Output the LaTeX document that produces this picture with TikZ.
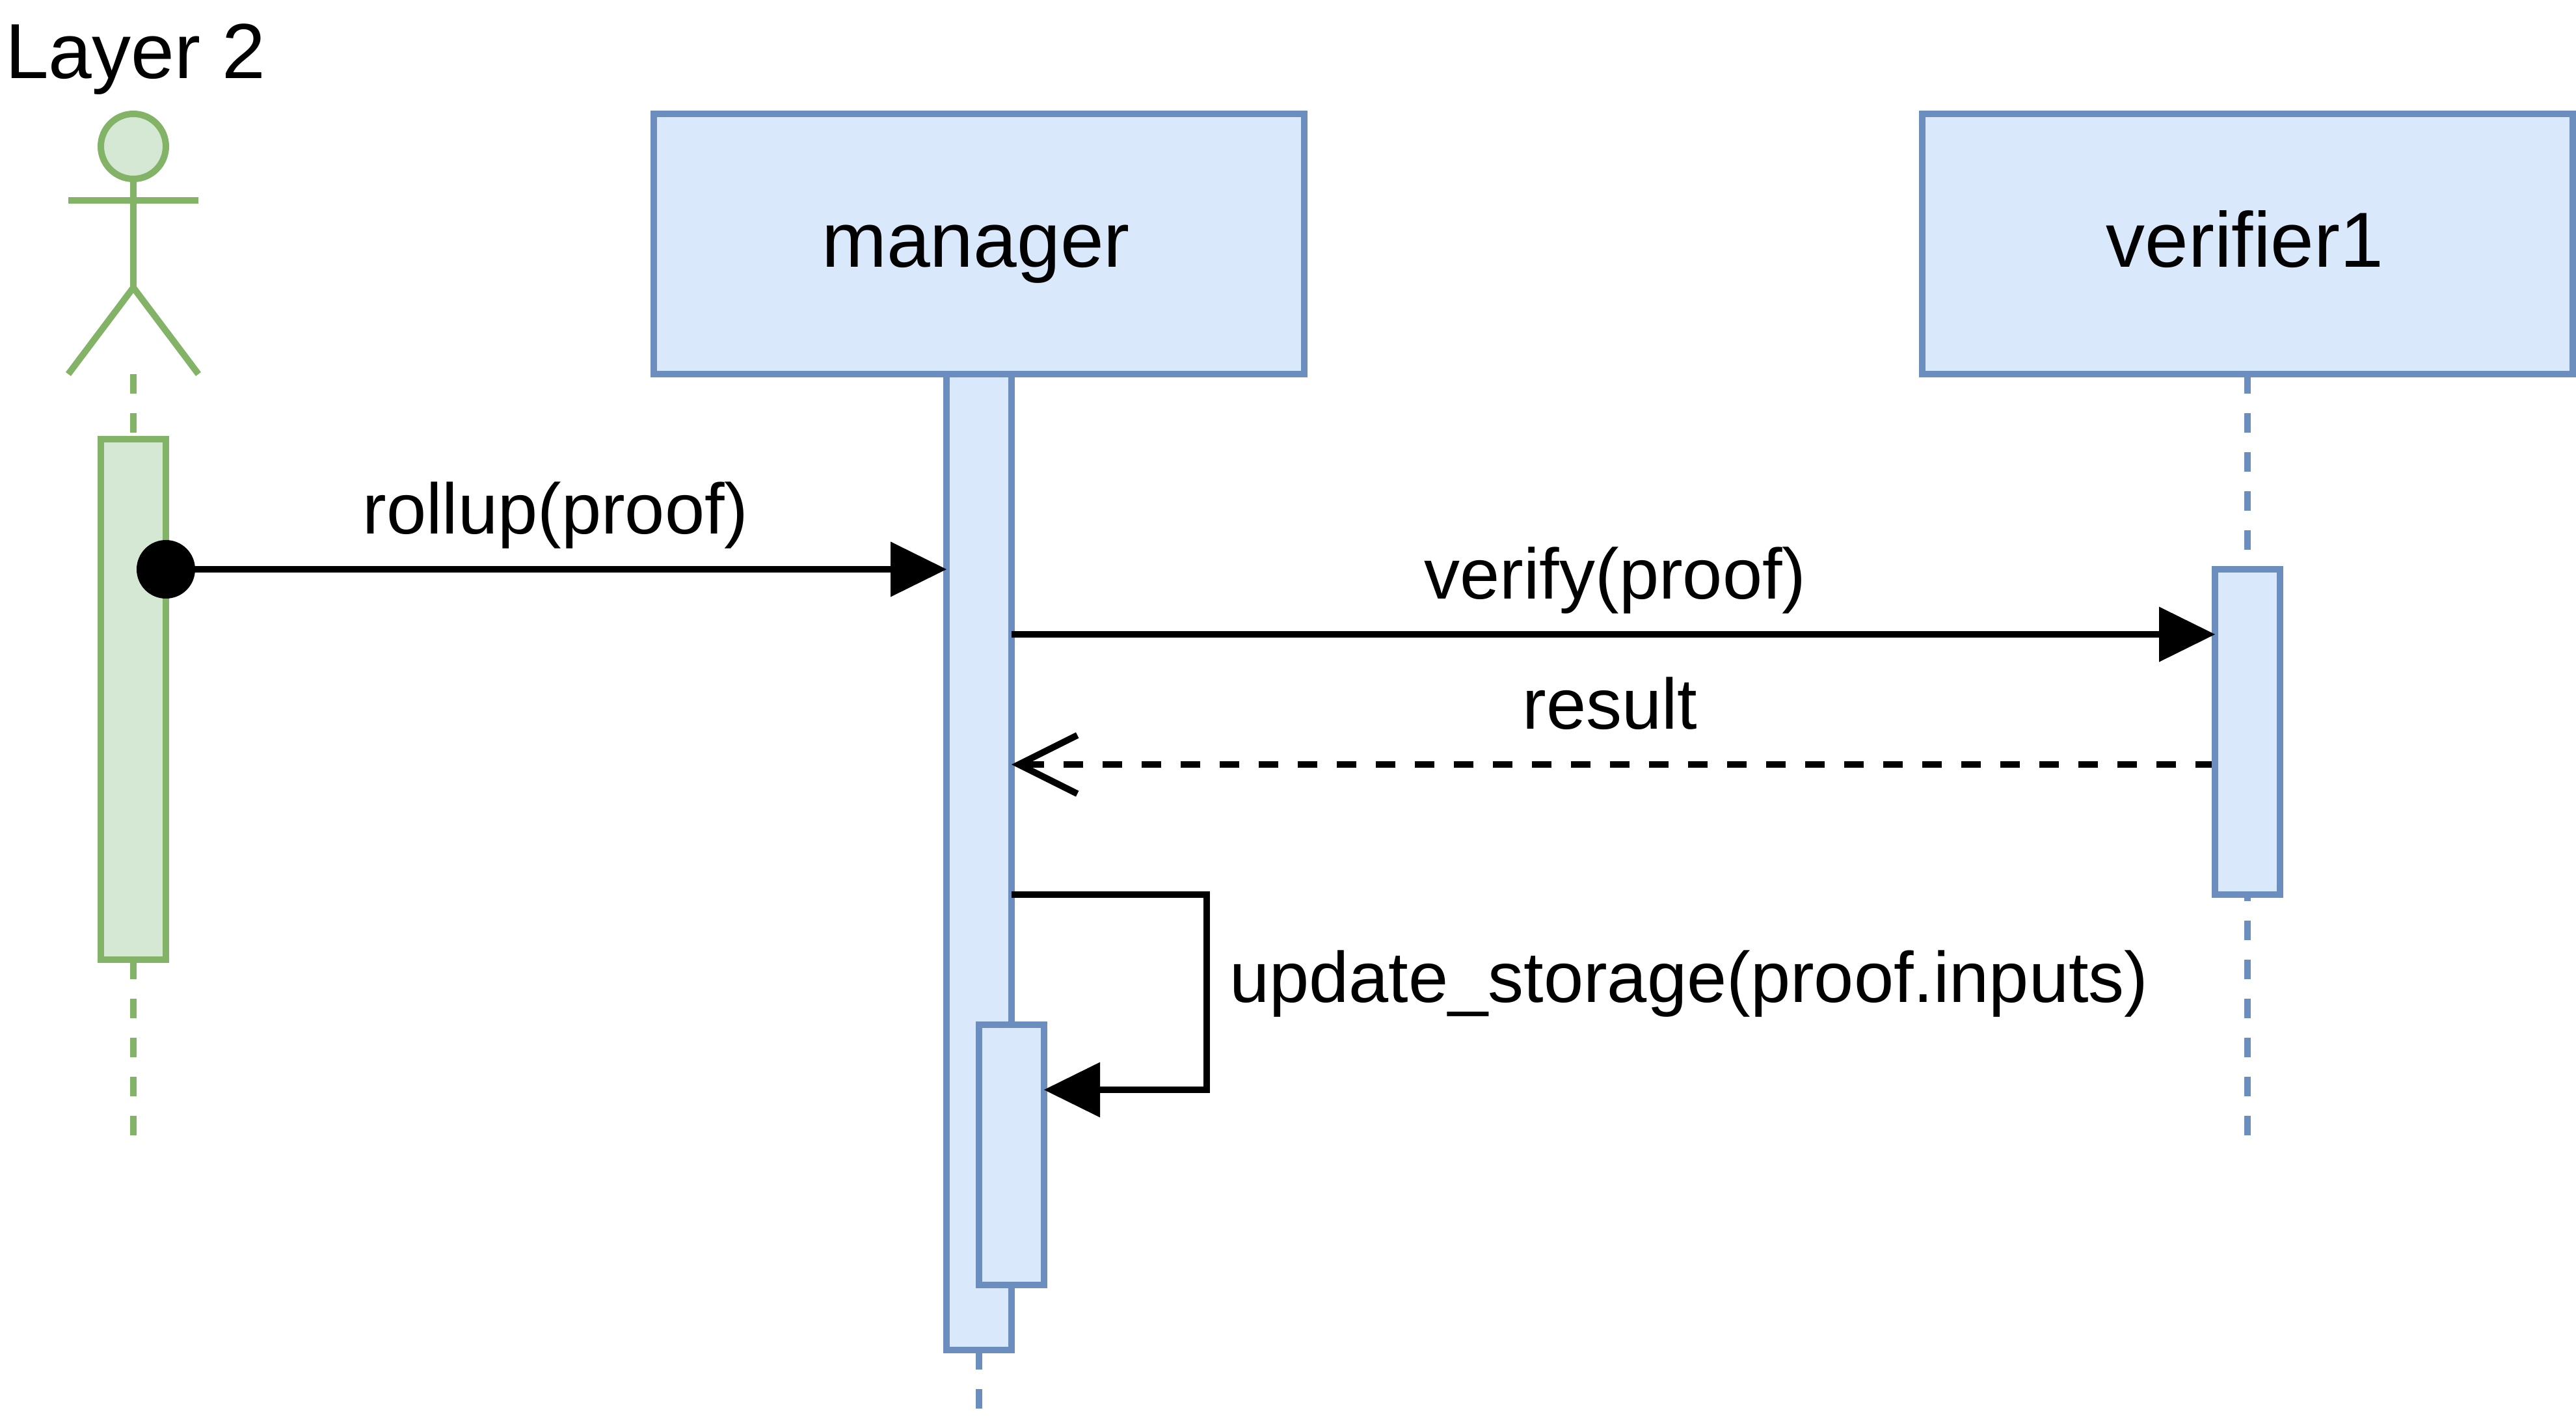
\documentclass[tikz,border=0pt]{standalone}
\usepackage{fontspec}
\setmainfont{Liberation Sans}
\usetikzlibrary{arrows.meta}
\definecolor{bluefill}{HTML}{DAE8FC}
\definecolor{bluestroke}{HTML}{6C8EBF}
\definecolor{greenfill}{HTML}{D5E8D4}
\definecolor{greenstroke}{HTML}{82B366}
\tikzset{
  x=1mm,y=-1mm,
  lbl/.style={font=\fontsize{12mm}{14mm}\selectfont,inner sep=0pt,outer sep=0pt,text=black},
  msglbl/.style={font=\fontsize{11mm}{13mm}\selectfont,inner sep=0pt,outer sep=0pt,text=black},
  header/.style={rectangle,draw=bluestroke,fill=bluefill,line width=1mm,minimum width=100mm,minimum height=40mm,inner sep=0pt,outer sep=0pt},
  activation/.style={rectangle,line width=1mm,minimum width=10mm,inner sep=0pt,outer sep=0pt},
  blueact/.style={activation,draw=bluestroke,fill=bluefill},
  greenact/.style={activation,draw=greenstroke,fill=greenfill},
  lifeline/.style={line width=1mm,dash pattern=on 3mm off 3mm},
  stick/.style={line width=1mm,draw=greenstroke},
  msg/.style={line width=1mm,draw=black,line join=miter},
  call/.style={msg,-{Triangle[length=8.6mm,width=8.5mm,line width=0pt]}},
  reply/.style={msg,dash pattern=on 3mm off 3mm,dash phase=0.5mm,shorten <=0.5mm,-{Straight Barb[length=9mm,width=9mm,line width=1mm]}},
}
\begin{document}
\begin{tikzpicture}
\useasboundingbox (0,0) rectangle (396,218);

% actor
\node[lbl,anchor=base west] (layer) at (0.8,12.0) {Layer 2};
\node[circle,draw=greenstroke,fill=greenfill,line width=1mm,minimum size=10mm,inner sep=0pt,outer sep=0pt] (head) at (20.5,22.5) {};
\coordinate (hip) at (20.5,44.2);
\coordinate (armL) at (10.5,30.8);
\coordinate (armR) at (30.5,30.8);
\coordinate (legL) at (10.5,57.5);
\coordinate (legR) at (30.5,57.5);
\coordinate (foot) at (20.5,57.5);
\draw[stick] (head.south) -- (hip);
\draw[stick] (armL) -- (armR);
\draw[stick,line join=miter] (legL) -- (hip) -- (legR);

% headers
\node[header] (manager) at (150.5,37.5) {};
\node[header] (verifier) at (345.5,37.5) {};
\node[lbl,anchor=base] (managerlabel) at (150,41) {manager};
\node[lbl,anchor=base] (verifierlabel) at (345.1,41) {verifier1};

% lifelines
\coordinate (actorend) at (20.5,177.5);
\coordinate (managerend) at (150.5,217.5);
\coordinate (verifierend) at (345.5,177.5);
\draw[lifeline,draw=greenstroke] (foot) -- (actorend);
\draw[lifeline,draw=bluestroke] (manager.south) -- (managerend);
\draw[lifeline,draw=bluestroke] (verifier.south) -- (verifierend);

% activations
\node[greenact,minimum height=80mm] (actoract) at (20.5,107.5) {};
\node[blueact,minimum height=150mm] (manageract) at (150.5,132.5) {};
\node[blueact,minimum height=40mm] (selfact) at (155.5,177.5) {};
\node[blueact,minimum height=50mm] (verifieract) at (345.5,112.5) {};

% connection points
\coordinate (rollupstart) at (actoract.east |- 0,87.5);
\coordinate (rollupend) at (manageract.west |- 0,87.5);
\coordinate (verifystart) at (manageract.east |- 0,97.5);
\coordinate (verifyend) at (verifieract.west |- 0,97.5);
\coordinate (resultstart) at (verifieract.west |- 0,117.5);
\coordinate (resultend) at (manageract.east |- 0,117.5);
\coordinate (selfstart) at (manageract.east |- 0,137.5);
\coordinate (selfend) at (selfact.east |- 0,167.5);
\coordinate (selfbendA) at (185.5,137.5);
\coordinate (selfbendB) at (185.5,167.5);

% messages
\node[circle,fill=black,minimum size=9mm,inner sep=0pt,outer sep=0pt] (startdot) at (rollupstart) {};
\draw[call] (startdot.center) -- (rollupend);
\draw[call] (verifystart) -- (verifyend);
\draw[reply] (resultstart) -- (resultend);
\draw[call] (selfstart) -- (selfbendA) -- (selfbendB) -- (selfend);

% labels
\node[msglbl,anchor=base] (rolluplabel) at (85.4,82) {rollup(proof)};
\node[msglbl,anchor=base] (verifylabel) at (248.3,92) {verify(proof)};
\node[msglbl,anchor=base] (resultlabel) at (247.5,112) {result};
\node[msglbl,anchor=base west] (updatelabel) at (189.0,154) {update\_storage(proof.inputs)};
\end{tikzpicture}
\end{document}
